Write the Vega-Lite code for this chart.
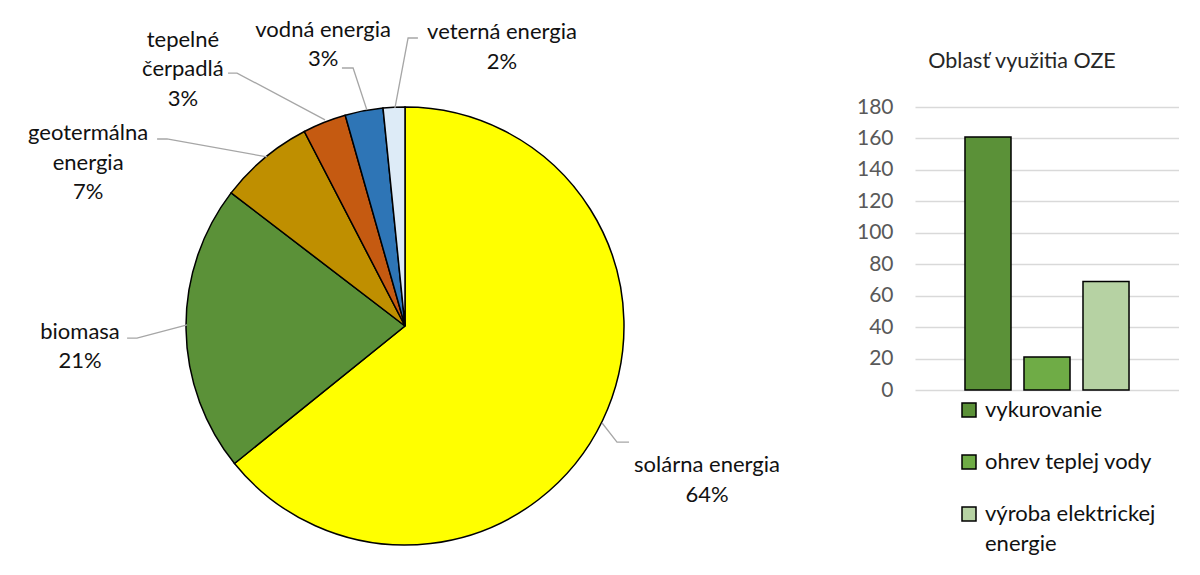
{
  "$schema": "https://vega.github.io/schema/vega-lite/v6.json",
  "background": "white",
  "padding": 0,
  "spacing": 105,
  "bounds": "flush",
  "config": {
    "view": {"stroke": null},
    "font": "Lato",
    "title": {"font": "Lato"},
    "axis": {"labelFont": "Lato"},
    "legend": {"labelFont": "Lato"}
  },
  "resolve": {"scale": {"color": "independent"}, "legend": {"color": "independent"}},
  "datasets": {
    "shares": [
      {"source": "solárna energia", "rank": 1, "share": 64.2, "label": "solárna energia\n64%", "labelX": 1.379, "labelY": -0.635},
      {"source": "biomasa", "rank": 2, "share": 21.2, "label": "biomasa\n21%", "labelX": -1.484, "labelY": -0.027},
      {"source": "geotermálna energia", "rank": 3, "share": 7.0, "label": "geotermálna\nenergia\n7%", "labelX": -1.447, "labelY": 0.881},
      {"source": "tepelné čerpadlá", "rank": 4, "share": 3.2, "label": "tepelné\nčerpadlá\n3%", "labelX": -1.014, "labelY": 1.306},
      {"source": "vodná energia", "rank": 5, "share": 2.8, "label": "vodná energia\n3%", "labelX": -0.374, "labelY": 1.352},
      {"source": "veterná energia", "rank": 6, "share": 1.6, "label": "veterná energia\n2%", "labelX": 0.443, "labelY": 1.342}
    ],
    "leaders": [
      {"source": "solárna energia", "seq": 1, "lx": 1.023, "ly": -0.530},
      {"source": "solárna energia", "seq": 2, "lx": 0.968, "ly": -0.530},
      {"source": "solárna energia", "seq": 3, "lx": 0.900, "ly": -0.443},
      {"source": "biomasa", "seq": 1, "lx": -1.269, "ly": -0.055},
      {"source": "biomasa", "seq": 2, "lx": -1.224, "ly": -0.055},
      {"source": "biomasa", "seq": 3, "lx": -0.995, "ly": 0.005},
      {"source": "geotermálna energia", "seq": 1, "lx": -1.132, "ly": 0.854},
      {"source": "geotermálna energia", "seq": 2, "lx": -1.087, "ly": 0.854},
      {"source": "geotermálna energia", "seq": 3, "lx": -0.630, "ly": 0.772},
      {"source": "tepelné čerpadlá", "seq": 1, "lx": -0.808, "ly": 1.155},
      {"source": "tepelné čerpadlá", "seq": 2, "lx": -0.767, "ly": 1.155},
      {"source": "tepelné čerpadlá", "seq": 3, "lx": -0.365, "ly": 0.941},
      {"source": "vodná energia", "seq": 1, "lx": -0.288, "ly": 1.178},
      {"source": "vodná energia", "seq": 2, "lx": -0.237, "ly": 1.178},
      {"source": "vodná energia", "seq": 3, "lx": -0.174, "ly": 0.986},
      {"source": "veterná energia", "seq": 1, "lx": 0.059, "ly": 1.315},
      {"source": "veterná energia", "seq": 2, "lx": 0.014, "ly": 1.315},
      {"source": "veterná energia", "seq": 3, "lx": -0.046, "ly": 0.995}
    ],
    "usage": [
      {"area": "vykurovanie", "count": 161},
      {"area": "ohrev teplej vody", "count": 21},
      {"area": "výroba elektrickej energie", "count": 69}
    ]
  },
  "hconcat": [
    {
      "width": 810,
      "height": 575,
      "data": {"name": "shares"},
      "layer": [
        {
          "mark": {"type": "arc", "radius": 219, "stroke": "black", "strokeWidth": 1.5},
          "encoding": {
            "theta": {"field": "share", "type": "quantitative", "stack": true},
            "order": {"field": "rank", "type": "quantitative"},
            "color": {
              "field": "source", "type": "nominal",
              "scale": {
                "domain": ["solárna energia", "biomasa", "geotermálna energia", "tepelné čerpadlá", "vodná energia", "veterná energia"],
                "range": ["#FFFF00", "#5B9138", "#BF8F00", "#C55A11", "#2E75B6", "#DDEBF7"]
              },
              "legend": null
            },
            "x": {"datum": 0, "type": "quantitative", "scale": {"domain": [-1.8493, 1.8493], "nice": false, "zero": false}, "axis": null},
            "y": {"datum": 0, "type": "quantitative", "scale": {"domain": [-1.137, 1.4886], "nice": false, "zero": false}, "axis": null}
          }
        },
        {
          "data": {"name": "leaders"},
          "mark": {"type": "line", "color": "#a6a6a6", "strokeWidth": 1.3},
          "encoding": {
            "x": {"field": "lx", "type": "quantitative"},
            "y": {"field": "ly", "type": "quantitative"},
            "detail": {"field": "source", "type": "nominal"},
            "order": {"field": "seq", "type": "quantitative"}
          }
        },
        {
          "mark": {"type": "text", "lineBreak": "\n", "fontSize": 22, "lineHeight": 29.5, "baseline": "middle", "align": "center", "color": "#111111"},
          "encoding": {
            "x": {"field": "labelX", "type": "quantitative"},
            "y": {"field": "labelY", "type": "quantitative"},
            "text": {"field": "label", "type": "nominal"}
          }
        }
      ]
    },
    {
      "width": 264,
      "height": 390,
      "title": {"text": "Oblasť využitia OZE", "fontSize": 21.5, "fontWeight": "normal", "color": "#262626", "offset": -72, "dx": -25, "anchor": "middle"},
      "data": {"name": "usage"},
      "mark": {"type": "bar", "stroke": "black", "strokeWidth": 1.5},
      "encoding": {
        "x": {"field": "area", "type": "nominal", "sort": null, "scale": {"paddingInner": 0.22, "paddingOuter": 0.847}, "axis": null},
        "y": {
          "field": "count", "type": "quantitative",
          "scale": {"domain": [0, 248.06], "nice": false},
          "axis": {"values": [0, 20, 40, 60, 80, 100, 120, 140, 160, 180], "grid": true, "gridColor": "#d9d9d9", "gridWidth": 1.3, "domain": false, "ticks": false, "labelPadding": 22, "labelFontSize": 21, "labelColor": "#595959", "title": null}
        },
        "color": {
          "field": "area", "type": "nominal", "sort": null,
          "scale": {"domain": ["vykurovanie", "ohrev teplej vody", "výroba elektrickej energie"], "range": ["#5B9138", "#6FAC46", "#B6D2A3"]},
          "legend": {
            "orient": "none", "legendX": 43, "legendY": 399, "title": null, "direction": "vertical",
            "symbolType": "square", "symbolSize": 196, "symbolStrokeColor": "black", "symbolStrokeWidth": 1.5,
            "labelFontSize": 22, "labelColor": "#111111", "labelOffset": 5, "rowPadding": 30, "labelLimit": 300,
            "labelExpr": "datum.label == 'výroba elektrickej energie' ? ['výroba elektrickej', 'energie'] : datum.label",
            "encode": {"labels": {"update": {"lineHeight": {"value": 29.5}}}}
          }
        }
      }
    }
  ]
}
